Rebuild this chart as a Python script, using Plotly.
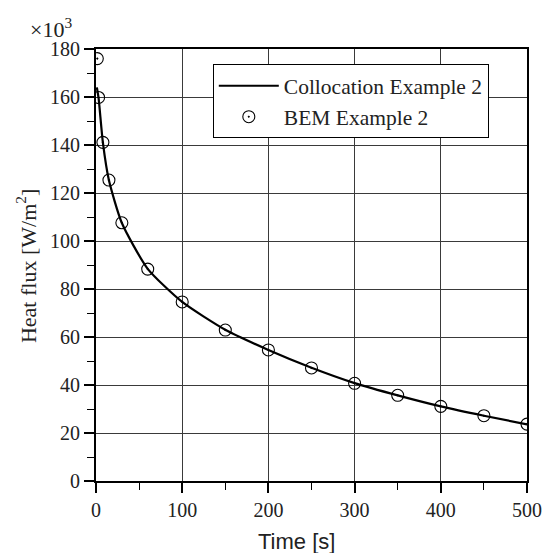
import plotly.graph_objects as go

# Collocation solution (heat flux in units of 10^3 W/m^2)
coll_time = [1, 3, 8, 15, 30, 60, 100, 150, 200, 250, 300, 350, 400, 450, 500]
coll_flux = [164.0, 159.5, 141.0, 125.3, 107.5, 88.4, 74.6, 63.0, 54.6, 47.2, 40.8, 35.7, 31.1, 27.2, 23.6]

# BEM solution
bem_time = [1.5, 3, 8, 15, 30, 60, 100, 150, 200, 250, 300, 350, 400, 450, 500]
bem_flux = [176.0, 159.8, 141.1, 125.4, 107.6, 88.3, 74.6, 62.9, 54.6, 47.1, 40.7, 35.7, 31.1, 27.2, 23.7]

x_ticks = [0, 100, 200, 300, 400, 500]
y_ticks = [0, 20, 40, 60, 80, 100, 120, 140, 160, 180]

serif = "Liberation Serif"
sans = "Liberation Sans"

fig = go.Figure()
fig.add_trace(go.Scatter(
    x=coll_time, y=coll_flux, mode="lines", name="Collocation Example 2",
    line=dict(color="black", width=2.2, shape="spline", smoothing=0.6),
))
fig.add_trace(go.Scatter(
    x=bem_time, y=bem_flux, mode="markers", name="BEM Example 2",
    marker=dict(symbol="circle-open-dot", size=12, color="black", line=dict(width=1.1)),
))

axis_common = dict(
    showline=True, linecolor="black", linewidth=2, mirror=True,
    ticks="outside", ticklen=10, tickwidth=1.5, tickcolor="black",
    showgrid=True, gridcolor="#3a3a3a", gridwidth=1,
    zeroline=False, automargin=False,
    tickfont=dict(family=serif, size=20, color="#222"),
)

fig.update_xaxes(
    range=[0, 500], tickvals=x_ticks, **axis_common,
    minor=dict(dtick=50, tick0=0, ticks="outside", ticklen=7, tickwidth=1.3,
               tickcolor="black", showgrid=False),
)
fig.update_yaxes(
    range=[0, 180], tickvals=y_ticks, **axis_common,
    minor=dict(dtick=10, tick0=0, ticks="outside", ticklen=7, tickwidth=1.3,
               tickcolor="black", showgrid=False),
)

# Axis titles and the 10^3 multiplier
fig.add_annotation(
    xref="paper", yref="paper", x=0.466, y=-0.139, xanchor="center", yanchor="middle",
    text="Time [s]", showarrow=False,
    font=dict(family=sans, size=22, color="#222"),
)
fig.add_annotation(
    xref="paper", yref="paper", x=-0.162, y=0.498, xanchor="center", yanchor="middle",
    text="Heat flux [W/m<sup>2</sup>]", showarrow=False, textangle=-90,
    font=dict(family=serif, size=22, color="#222"),
)
fig.add_annotation(
    xref="paper", yref="paper", x=-0.158, y=1.012, xanchor="left", yanchor="bottom",
    text="×10<sup>3</sup>", showarrow=False,
    font=dict(family=serif, size=22, color="#222"),
)

fig.update_layout(
    width=553, height=553,
    margin=dict(l=96, r=26, t=49, b=72),
    paper_bgcolor="white", plot_bgcolor="white",
    showlegend=True,
    legend=dict(
        x=0.271, y=0.9646, xanchor="left", yanchor="top",
        bgcolor="white", bordercolor="black", borderwidth=1,
        font=dict(family=serif, size=21.5, color="#222"),
        tracegroupgap=0, itemwidth=60,
    ),
)

fig.write_html("out.html")
